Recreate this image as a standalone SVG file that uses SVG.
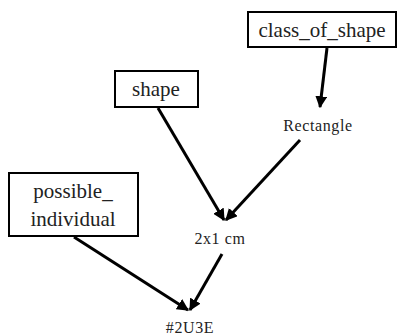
<svg xmlns="http://www.w3.org/2000/svg" width="401" height="335" viewBox="0 0 401 335">
<defs>
<style>
.box{fill:#fff;stroke:#000;stroke-width:2}
.lbl{font-family:"Liberation Serif","Times New Roman",serif;fill:#222;text-anchor:middle}
.big{font-size:21px}
.sm{font-size:16px;letter-spacing:0.6px}
.edge{stroke:#000;stroke-width:3;fill:none;marker-end:url(#ah)}
</style>
<marker id="ah" viewBox="0 0 10 10" refX="9" refY="5" markerWidth="4" markerHeight="4" orient="auto" markerUnits="strokeWidth">
<path d="M0,0 L10,5 L0,10 Z" fill="#000"/>
</marker>
</defs>
<rect width="401" height="335" fill="#fff"/>
<g id="edges">
<path class="edge" d="M327,48 L320,107"/>
<path class="edge" d="M158,108 L224,220"/>
<path class="edge" d="M300,140 L226,220"/>
<path class="edge" d="M74,237 L188,310"/>
<path class="edge" d="M222,254 L190,310"/>
</g>
<g id="class_of_shape">
<rect class="box" x="248" y="12" width="148" height="35"/>
<text class="lbl big" x="322" y="37">class_of_shape</text>
</g>
<g id="shape">
<rect class="box" x="115" y="71" width="83" height="36"/>
<text class="lbl big" x="156" y="96">shape</text>
</g>
<g id="Rectangle">
<text class="lbl sm" x="318" y="131">Rectangle</text>
</g>
<g id="possible_individual">
<rect class="box" x="9" y="173" width="129" height="63"/>
<text class="lbl big" x="73" y="198">possible_</text>
<text class="lbl big" x="73" y="226">individual</text>
</g>
<g id="size">
<text class="lbl sm" x="220" y="244">2x1 cm</text>
</g>
<g id="thing">
<text class="lbl sm" x="190" y="333">#2U3E</text>
</g>
</svg>
